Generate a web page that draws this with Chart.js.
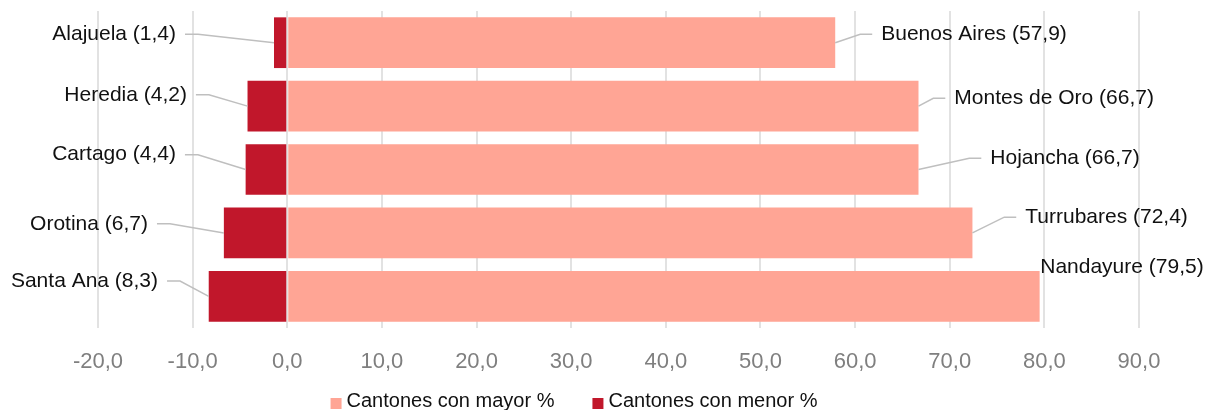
<!DOCTYPE html>
<html lang="es">
<head>
<meta charset="utf-8">
<title>Cantones con mayor y menor %</title>
<script src="https://cdn.jsdelivr.net/npm/chart.js@4.4.1/dist/chart.umd.min.js"></script>
<style>
    html, body { margin: 0; padding: 0; background: #ffffff; }
    #chart-cantones { display: block; }
</style>
</head>
<body>
<canvas id="chart-cantones" width="1212" height="410"></canvas>
<script>
// ── Datos ──────────────────────────────────────────────────
var menorNombres = ['Alajuela', 'Heredia', 'Cartago', 'Orotina', 'Santa Ana'];
var menorValores = [1.4, 4.2, 4.4, 6.7, 8.3];
var mayorNombres = ['Buenos Aires', 'Montes de Oro', 'Hojancha', 'Turrubares', 'Nandayure'];
var mayorValores = [57.9, 66.7, 66.7, 72.4, 79.5];
var serieNombres = ['Cantones con mayor %', 'Cantones con menor %'];
var ejeMin = -20, ejeMax = 90, ejePaso = 10;

// ── Estilo ─────────────────────────────────────────────────
var FONT = '"Liberation Sans", Arial, sans-serif';
var colores = {
    mayor: '#ffa595',
    menor: '#c1172b',
    grid: '#e2e2e2',
    ticks: '#7f7f7f',
    texto: '#111111',
    guia: '#bfbfbf'
};

// desplazamiento de cada etiqueta respecto al extremo de su barra (px)
var offsetIzq = [[-98, -8.5], [-60.6, -11.3], [-69.7, -14.8], [-75.9, -9.1], [-50.7, -15.3]];
var offsetDer = [[46, -8.5], [35.8, -7.8], [71.8, -11.2], [52.8, -15.7], [0.6, -28.8]];

function fmt(v) {
    return v.toFixed(1).replace('.', ',');
}

// ── Plugin: etiquetas con líneas guía ──────────────────────
var etiquetasPlugin = {
    id: 'etiquetas',
    afterDatasetsDraw: function (chart) {
        var ctx = chart.ctx;
        var metaMayor = chart.getDatasetMeta(0);
        var metaMenor = chart.getDatasetMeta(1);
        ctx.save();
        ctx.font = '21px ' + FONT;
        ctx.textBaseline = 'middle';
        ctx.lineWidth = 1.5;
        ctx.strokeStyle = colores.guia;
        ctx.fillStyle = colores.texto;

        for (var i = 0; i < menorNombres.length; i++) {
            // izquierda (menor %)
            var barL = metaMenor.data[i];
            var tx = barL.x + offsetIzq[i][0];
            var ty = barL.y + offsetIzq[i][1];
            ctx.beginPath();
            ctx.moveTo(tx + 9, ty);
            ctx.lineTo(tx + 22, ty);
            ctx.lineTo(barL.x, barL.y);
            ctx.stroke();
            ctx.textAlign = 'right';
            ctx.fillText(menorNombres[i] + ' (' + fmt(menorValores[i]) + ')', tx, ty);

            // derecha (mayor %)
            var barR = metaMayor.data[i];
            var rx = barR.x + offsetDer[i][0];
            var ry = barR.y + offsetDer[i][1];
            if (offsetDer[i][0] > 10) {
                ctx.beginPath();
                ctx.moveTo(barR.x, barR.y);
                ctx.lineTo(rx - 21, ry);
                ctx.lineTo(rx - 9, ry);
                ctx.stroke();
            }
            ctx.textAlign = 'left';
            ctx.fillText(mayorNombres[i] + ' (' + fmt(mayorValores[i]) + ')', rx, ry);
        }
        ctx.restore();
    }
};

// ── Plugin: leyenda inferior ───────────────────────────────
var leyendaPlugin = {
    id: 'leyenda',
    afterDraw: function (chart) {
        var ctx = chart.ctx;
        var ds = chart.data.datasets;
        var caja = 11, sep = 5, gap = 38;
        ctx.save();
        ctx.font = '20px ' + FONT;
        ctx.textBaseline = 'middle';
        ctx.textAlign = 'left';
        var total = 0;
        ds.forEach(function (d, i) {
            total += caja + sep + ctx.measureText(d.label).width;
            if (i < ds.length - 1) total += gap;
        });
        var x = chart.width / 2 - 32 - total / 2;
        var y = 401;
        ds.forEach(function (d) {
            ctx.fillStyle = d.backgroundColor;
            ctx.fillRect(x, y - 3, caja, caja);
            x += caja + sep;
            ctx.fillStyle = colores.texto;
            ctx.fillText(d.label, x, y);
            x += ctx.measureText(d.label).width + gap;
        });
        ctx.restore();
    }
};

var ctx = document.getElementById('chart-cantones').getContext('2d');
new Chart(ctx, {
    type: 'bar',
    data: {
        labels: menorNombres.map(function (n, i) { return n + ' / ' + mayorNombres[i]; }),
        datasets: [
            {
                label: serieNombres[0],
                data: mayorValores,
                backgroundColor: colores.mayor,
                borderWidth: 0,
                barPercentage: 0.8,
                categoryPercentage: 1.0
            },
            {
                label: serieNombres[1],
                data: menorValores.map(function (v) { return -v; }),
                backgroundColor: colores.menor,
                borderWidth: 0,
                barPercentage: 0.8,
                categoryPercentage: 1.0
            }
        ]
    },
    options: {
        indexAxis: 'y',
        responsive: false,
        animation: false,
        devicePixelRatio: 1,
        layout: { padding: { top: 11, left: 0, right: 73, bottom: 0 } },
        scales: {
            x: {
                stacked: true,
                min: ejeMin,
                max: ejeMax,
                ticks: {
                    stepSize: ejePaso,
                    padding: 21,
                    color: colores.ticks,
                    font: { family: FONT, size: 22 },
                    callback: function (v) { return fmt(v); }
                },
                grid: { color: colores.grid, lineWidth: 2, drawTicks: false },
                border: { display: false },
                afterFit: function (scale) { scale.height = 82; }
            },
            y: {
                stacked: true,
                ticks: { display: false },
                grid: { display: false },
                border: { display: false },
                afterFit: function (scale) { scale.width = 98; }
            }
        },
        plugins: {
            legend: { display: false },
            tooltip: { enabled: false }
        }
    },
    plugins: [etiquetasPlugin, leyendaPlugin]
});
</script>
</body>
</html>
